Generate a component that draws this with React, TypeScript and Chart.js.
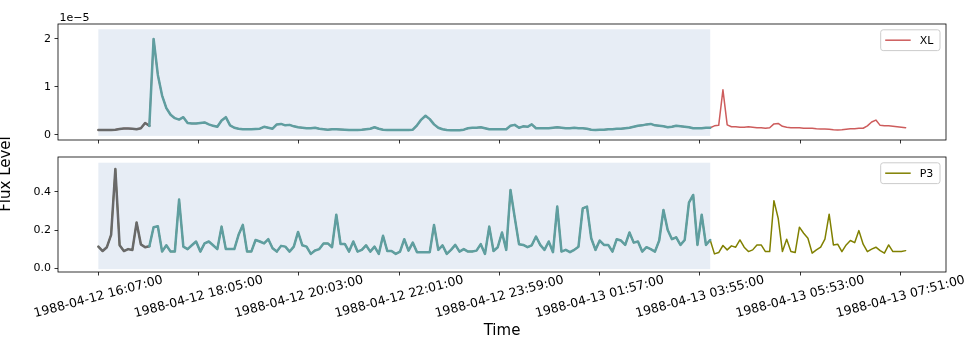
import React, { useEffect, useRef } from 'react';
import { Chart, registerables } from 'chart.js';

Chart.register(...registerables);

const W = 973;
const H = 337;
const AREA_LEFT = 58;
const AREA_RIGHT = 946;
const X_AXIS_H = 10;
const FONT = '"DejaVu Sans", sans-serif';

const STEP_MINUTES = 5;
const HISTORY_END_MIN = 60;
const WINDOW_END_MIN = 720;

const TICK_MINUTES = [0, 118, 236, 354, 472, 590, 708, 826, 944];
const TICK_LABELS = [
  '1988-04-12 16:07:00',
  '1988-04-12 18:05:00',
  '1988-04-12 20:03:00',
  '1988-04-12 22:01:00',
  '1988-04-12 23:59:00',
  '1988-04-13 01:57:00',
  '1988-04-13 03:55:00',
  '1988-04-13 05:53:00',
  '1988-04-13 07:51:00',
];

// XL flux, in units of 1e-5
const XL_E5 = [
  0.104, 0.104, 0.104, 0.105, 0.11, 0.125, 0.135, 0.135, 0.13, 0.12,
  0.14, 0.25, 0.19, 2.0, 1.25, 0.82, 0.56, 0.42, 0.35, 0.32,
  0.37, 0.25, 0.24, 0.24, 0.25, 0.26, 0.22, 0.19, 0.17, 0.3,
  0.37, 0.2, 0.15, 0.13, 0.12, 0.12, 0.12, 0.125, 0.13, 0.17,
  0.15, 0.13, 0.22, 0.23, 0.2, 0.21, 0.18, 0.16, 0.15, 0.14,
  0.14, 0.15, 0.13, 0.12, 0.11, 0.12, 0.12, 0.115, 0.11, 0.105,
  0.104, 0.104, 0.11, 0.12, 0.13, 0.16, 0.13, 0.11, 0.104, 0.104,
  0.105, 0.105, 0.105, 0.105, 0.11, 0.2, 0.32, 0.4, 0.33, 0.22,
  0.15, 0.12, 0.104, 0.1, 0.1, 0.1, 0.11, 0.14, 0.15, 0.15,
  0.16, 0.14, 0.12, 0.12, 0.12, 0.12, 0.12, 0.19, 0.21, 0.15,
  0.18, 0.17, 0.22, 0.14, 0.14, 0.14, 0.14, 0.15, 0.16, 0.15,
  0.14, 0.14, 0.15, 0.14, 0.14, 0.13, 0.11, 0.105, 0.11, 0.11,
  0.12, 0.12, 0.13, 0.13, 0.14, 0.15, 0.17, 0.19, 0.2, 0.22,
  0.23, 0.2, 0.19, 0.18, 0.16, 0.17, 0.19, 0.18, 0.17, 0.16,
  0.14, 0.14, 0.14, 0.15, 0.15, 0.19, 0.2, 0.94, 0.21, 0.17,
  0.17, 0.16, 0.16, 0.17, 0.16, 0.15, 0.15, 0.14, 0.15, 0.23,
  0.24, 0.18, 0.16, 0.15, 0.15, 0.15, 0.14, 0.14, 0.14, 0.13,
  0.125, 0.125, 0.12, 0.11, 0.104, 0.11, 0.12, 0.13, 0.13, 0.14,
  0.14, 0.19, 0.27, 0.31, 0.2, 0.19, 0.19, 0.18, 0.17, 0.16,
  0.15,
];

const P3 = [
  0.113, 0.09, 0.11, 0.175, 0.52, 0.12, 0.09, 0.1, 0.095, 0.24,
  0.125, 0.11, 0.115, 0.215, 0.22, 0.087, 0.12, 0.087, 0.087, 0.36,
  0.113, 0.1, 0.12, 0.14, 0.087, 0.13, 0.14, 0.12, 0.1, 0.218,
  0.1, 0.1, 0.1, 0.175, 0.227, 0.087, 0.087, 0.148, 0.14, 0.13,
  0.152, 0.105, 0.087, 0.117, 0.113, 0.087, 0.113, 0.19, 0.12, 0.113,
  0.075, 0.093, 0.1, 0.13, 0.13, 0.11, 0.28, 0.127, 0.127, 0.087,
  0.14, 0.087, 0.096, 0.12, 0.087, 0.113, 0.075, 0.17, 0.09, 0.09,
  0.075, 0.087, 0.152, 0.092, 0.134, 0.084, 0.084, 0.084, 0.084, 0.227,
  0.096, 0.12, 0.075, 0.096, 0.122, 0.087, 0.1, 0.087, 0.087, 0.092,
  0.126, 0.075, 0.218, 0.09, 0.11, 0.187, 0.096, 0.41, 0.265, 0.126,
  0.122, 0.11, 0.12, 0.166, 0.122, 0.096, 0.14, 0.084, 0.323, 0.087,
  0.096, 0.084, 0.096, 0.113, 0.314, 0.323, 0.157, 0.096, 0.145, 0.122,
  0.122, 0.087, 0.152, 0.145, 0.122, 0.187, 0.134, 0.14, 0.087, 0.11,
  0.1, 0.087, 0.145, 0.305, 0.2, 0.152, 0.162, 0.122, 0.148, 0.344,
  0.384, 0.122, 0.28, 0.122, 0.148, 0.075, 0.082, 0.119, 0.096, 0.117,
  0.11, 0.148, 0.11, 0.087, 0.096, 0.122, 0.122, 0.087, 0.087, 0.354,
  0.262, 0.087, 0.152, 0.087, 0.082, 0.215, 0.183, 0.157, 0.079, 0.096,
  0.11, 0.152, 0.283, 0.122, 0.126, 0.087, 0.122, 0.145, 0.134, 0.197,
  0.126, 0.087, 0.1, 0.11, 0.092, 0.079, 0.122, 0.087, 0.087, 0.087,
  0.092,
];

const TIMES = XL_E5.map((_, i) => i * STEP_MINUTES);

const TEAL = '#5f9ea0';
const GREY = '#696969';
const SHADE = 'rgba(176, 196, 222, 0.3)';

type Panel = {
  key: string;
  values: number[];
  color: string;
  areaTop: number;
  areaBottom: number;
  yMin: number;
  yMax: number;
  yTicks: number[];
  yFmt: (v: number) => string;
  shadeTop: number;
  shadeBottom: number;
  offsetText?: string;
  bottomPanel?: boolean;
};

const PANELS: Panel[] = [
  {
    key: 'XL', values: XL_E5, color: '#cd5c5c', areaTop: 24, areaBottom: 140,
    yMin: -0.105, yMax: 2.31, yTicks: [0, 1, 2], yFmt: (v) => String(v),
    shadeTop: 2.2, shadeBottom: -0.02, offsetText: '1e\u22125',
  },
  {
    key: 'P3', values: P3, color: '#808000', areaTop: 157, areaBottom: 272,
    yMin: -0.02, yMax: 0.583, yTicks: [0, 0.2, 0.4], yFmt: (v) => v.toFixed(1),
    shadeTop: 0.553, shadeBottom: -0.005, bottomPanel: true,
  },
];

function roundRect(ctx: CanvasRenderingContext2D, x: number, y: number, w: number, h: number, r: number) {
  ctx.beginPath();
  ctx.moveTo(x + r, y);
  ctx.lineTo(x + w - r, y);
  ctx.arcTo(x + w, y, x + w, y + r, r);
  ctx.lineTo(x + w, y + h - r);
  ctx.arcTo(x + w, y + h, x + w - r, y + h, r);
  ctx.lineTo(x + r, y + h);
  ctx.arcTo(x, y + h, x, y + h - r, r);
  ctx.lineTo(x, y + r);
  ctx.arcTo(x, y, x + r, y, r);
  ctx.closePath();
}

function decoPlugin(p: Panel) {
  return {
    id: 'panelDeco',
    beforeDatasetsDraw(chart: any) {
      const { ctx, scales } = chart;
      const x0 = scales.x.getPixelForValue(0);
      const x1 = scales.x.getPixelForValue(WINDOW_END_MIN);
      const y0 = scales.y.getPixelForValue(p.shadeTop);
      const y1 = scales.y.getPixelForValue(p.shadeBottom);
      ctx.save();
      ctx.fillStyle = SHADE;
      ctx.fillRect(x0, y0, x1 - x0, y1 - y0);
      ctx.restore();
    },
    afterDraw(chart: any) {
      const { ctx, chartArea: a, scales } = chart;
      ctx.save();
      // frame
      ctx.strokeStyle = '#000';
      ctx.lineWidth = 0.8;
      ctx.strokeRect(a.left, a.top, a.right - a.left, a.bottom - a.top);

      // legend
      const bw = 59.3;
      const bh = 20.8;
      const bx = a.right - 6 - bw;
      const by = a.top + 5.8;
      roundRect(ctx, bx, by, bw, bh, 2.5);
      ctx.fillStyle = 'rgba(255,255,255,0.8)';
      ctx.fill();
      ctx.strokeStyle = '#cccccc';
      ctx.lineWidth = 1;
      ctx.stroke();
      const ly = by + bh / 2;
      ctx.strokeStyle = p.color;
      ctx.lineWidth = 1.5;
      ctx.beginPath();
      ctx.moveTo(bx + 4.5, ly);
      ctx.lineTo(bx + 30, ly);
      ctx.stroke();
      ctx.fillStyle = '#000';
      ctx.font = `11px ${FONT}`;
      ctx.textAlign = 'left';
      ctx.textBaseline = 'middle';
      ctx.fillText(p.key, bx + 39, ly + 0.5);

      if (p.offsetText) {
        ctx.textBaseline = 'alphabetic';
        ctx.fillText(p.offsetText, a.left + 1.5, a.top - 3.5);
      }

      if (p.bottomPanel) {
        ctx.font = `12.5px ${FONT}`;
        ctx.textAlign = 'center';
        ctx.textBaseline = 'middle';
        TICK_MINUTES.forEach((m, i) => {
          const x = scales.x.getPixelForValue(m);
          ctx.save();
          ctx.translate(x, a.bottom + 25);
          ctx.rotate(-15 * Math.PI / 180);
          ctx.fillText(TICK_LABELS[i], 0, 0);
          ctx.restore();
        });
        ctx.font = `15px ${FONT}`;
        ctx.textBaseline = 'alphabetic';
        ctx.fillText('Time', (a.left + a.right) / 2, 335);
        ctx.save();
        ctx.translate(9.5, 174);
        ctx.rotate(-Math.PI / 2);
        ctx.fillText('Flux Level', 0, 0);
        ctx.restore();
      }
      ctx.restore();
    },
  };
}

function makePanel(canvas: HTMLCanvasElement, p: Panel) {
  const pts = (from: number, to: number) =>
    p.values
      .map((v, i) => ({ x: TIMES[i], y: v }))
      .filter((q) => q.x >= from && q.x <= to);
  const last = TIMES[TIMES.length - 1];
  const margin = last * 0.05;
  const grid = {
    display: true,
    drawOnChartArea: false,
    drawTicks: true,
    tickLength: 3.5,
    color: '#000',
    lineWidth: 0.8,
  };
  const lineStyle = { pointRadius: 0, borderJoinStyle: 'round', borderCapStyle: 'round', fill: false };
  return new Chart(canvas, {
    type: 'line',
    data: {
      datasets: [
        { label: p.key + ' window', data: pts(HISTORY_END_MIN, WINDOW_END_MIN), borderColor: TEAL, borderWidth: 2.5, ...lineStyle },
        { label: p.key + ' history', data: pts(0, HISTORY_END_MIN), borderColor: GREY, borderWidth: 2.5, ...lineStyle },
        { label: p.key, data: pts(0, last), borderColor: p.color, borderWidth: 1.5, ...lineStyle },
      ],
    },
    options: {
      responsive: false,
      animation: false,
      devicePixelRatio: 1,
      layout: {
        padding: { left: 0, right: W - AREA_RIGHT, top: p.areaTop, bottom: H - p.areaBottom - X_AXIS_H },
      },
      plugins: { legend: { display: false }, tooltip: { enabled: false } },
      scales: {
        x: {
          type: 'linear',
          min: -margin,
          max: last + margin,
          afterBuildTicks: (s: any) => { s.ticks = TICK_MINUTES.map((v) => ({ value: v })); },
          afterFit: (s: any) => { s.height = X_AXIS_H; },
          ticks: { display: false },
          grid,
          border: { display: false },
        },
        y: {
          type: 'linear',
          min: p.yMin,
          max: p.yMax,
          afterBuildTicks: (s: any) => { s.ticks = p.yTicks.map((v) => ({ value: v })); },
          afterFit: (s: any) => { s.width = AREA_LEFT; },
          ticks: {
            callback: (v: any) => p.yFmt(Number(v)),
            padding: 3.5,
            color: '#000',
            font: { family: FONT, size: 11 },
          },
          grid,
          border: { display: false },
        },
      },
    } as any,
    plugins: [decoPlugin(p)],
  });
}

export default function App() {
  const topRef = useRef<HTMLCanvasElement>(null);
  const botRef = useRef<HTMLCanvasElement>(null);
  useEffect(() => {
    const charts = [
      makePanel(topRef.current as HTMLCanvasElement, PANELS[0]),
      makePanel(botRef.current as HTMLCanvasElement, PANELS[1]),
    ];
    return () => charts.forEach((c) => c.destroy());
  }, []);
  const cs: React.CSSProperties = { position: 'absolute', left: 0, top: 0, width: W, height: H };
  return (
    <div style={{ position: 'absolute', left: 0, top: 0, width: W, height: H, background: '#fff' }}>
      <canvas ref={topRef} width={W} height={H} style={cs} />
      <canvas ref={botRef} width={W} height={H} style={cs} />
    </div>
  );
}
